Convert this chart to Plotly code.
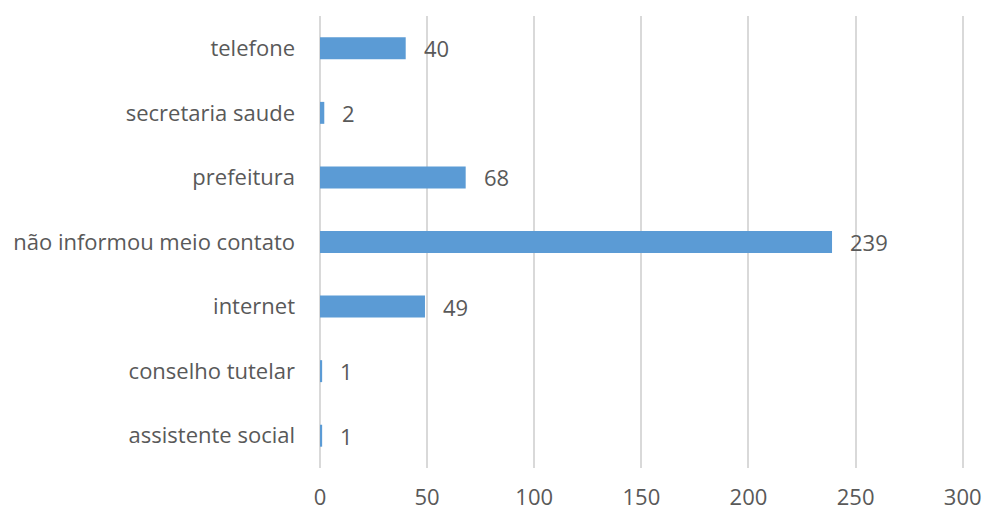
import plotly.graph_objects as go

categories = ["assistente social", "conselho tutelar", "internet",
              "não informou meio contato", "prefeitura", "secretaria saude", "telefone"]
values = [1, 1, 49, 239, 68, 2, 40]
x_ticks = [0, 50, 100, 150, 200, 250, 300]

font_family = "Open Sans, Segoe UI, sans-serif"
text_color = "#595959"
font_size = 22

fig = go.Figure(go.Bar(
    x=values, y=categories, orientation="h",
    marker=dict(color="#5B9BD5", line=dict(width=0)),
    width=0.34,
))

for c, v in zip(categories, values):
    fig.add_annotation(x=v, y=c, text=str(v), showarrow=False,
                       xanchor="left", xshift=16,
                       font=dict(family=font_family, size=font_size, color=text_color))

fig.update_layout(
    width=987, height=510,
    margin=dict(l=320, r=23, t=16, b=42),
    paper_bgcolor="white", plot_bgcolor="white",
    font=dict(family=font_family, size=font_size, color=text_color),
    showlegend=False,
)
fig.update_xaxes(range=[0, 300.6], tickvals=x_ticks, showgrid=True,
                 gridcolor="#D9D9D9", gridwidth=1.5, zeroline=True,
                 zerolinecolor="#D9D9D9", zerolinewidth=1.5,
                 showline=False, ticks="", ticklabelstandoff=14, automargin=False)
fig.update_yaxes(categoryorder="array", categoryarray=categories,
                 showgrid=False, showline=False, ticks="", ticklabelstandoff=24,
                 automargin=False)

fig.write_html("out.html")
